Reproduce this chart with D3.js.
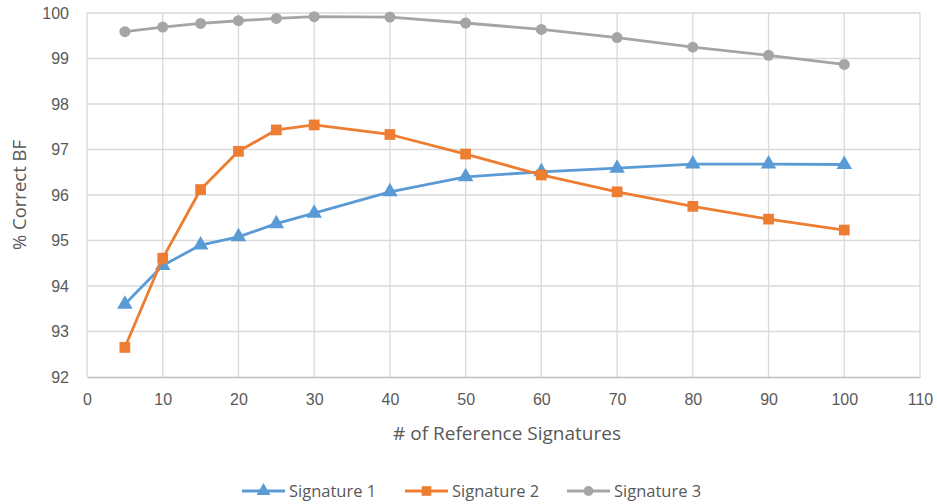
<!DOCTYPE html>
<html>
<head>
<meta charset="utf-8">
<script src="https://cdn.jsdelivr.net/npm/d3@7"></script>
<style>
  body { margin: 0; background: #fff; }
  svg { display: block; font-family: "Open Sans", Lato, sans-serif; }
</style>
</head>
<body>
<svg id="chart" width="937" height="504"></svg>
<script>
// Number of reference signatures
const refCounts = [5, 10, 15, 20, 25, 30, 40, 50, 60, 70, 80, 90, 100];
// % correct BF for each signature
const signature1 = [93.60, 94.45, 94.90, 95.08, 95.37, 95.60, 96.07, 96.40, 96.51, 96.59, 96.68, 96.68, 96.67];
const signature2 = [92.65, 94.61, 96.12, 96.96, 97.43, 97.54, 97.33, 96.90, 96.44, 96.07, 95.75, 95.47, 95.23];
const signature3 = [99.59, 99.69, 99.77, 99.83, 99.88, 99.92, 99.91, 99.78, 99.64, 99.46, 99.25, 99.07, 98.87];
const seriesNames = ["Signature 1", "Signature 2", "Signature 3"];
const xTicks = [0, 10, 20, 30, 40, 50, 60, 70, 80, 90, 100, 110];
const yTicks = [92, 93, 94, 95, 96, 97, 98, 99, 100];

const series = [
  { name: seriesNames[0], values: signature1, color: "#5b9bd5", symbol: d3.symbolTriangle, size: 105 },
  { name: seriesNames[1], values: signature2, color: "#ed7d31", symbol: d3.symbolSquare, size: 115 },
  { name: seriesNames[2], values: signature3, color: "#a5a5a5", symbol: d3.symbolCircle, size: 95 }
];

const svg = d3.select("#chart");
const plot = { left: 87, right: 920, top: 13, bottom: 377 };

const x = d3.scaleLinear().domain([0, 110]).range([plot.left, plot.right]);
const y = d3.scaleLinear().domain([92, 100]).range([plot.bottom, plot.top]);

const textColor = "#595959";
const gridColor = "#d9d9d9";

// Gridlines
const grid = svg.append("g");
grid.selectAll("line.h").data(yTicks.slice(1)).join("line")
  .attr("x1", plot.left).attr("x2", plot.right)
  .attr("y1", d => y(d)).attr("y2", d => y(d))
  .attr("stroke", gridColor).attr("stroke-width", 1.3);
grid.selectAll("line.v").data(xTicks).join("line")
  .attr("x1", d => x(d)).attr("x2", d => x(d))
  .attr("y1", plot.top).attr("y2", plot.bottom)
  .attr("stroke", gridColor).attr("stroke-width", 1.3);

// Axes
const xAxis = svg.append("g")
  .attr("transform", `translate(0,${plot.bottom})`)
  .call(d3.axisBottom(x).tickValues(xTicks).tickSize(0).tickPadding(17));
xAxis.select(".domain").attr("stroke", "#bfbfbf").attr("stroke-width", 1.3);
xAxis.selectAll("text").attr("fill", textColor).attr("font-size", 16);

const yAxis = svg.append("g")
  .attr("transform", `translate(${plot.left},0)`)
  .call(d3.axisLeft(y).tickValues(yTicks).tickSize(0).tickPadding(18));
yAxis.select(".domain").remove();
yAxis.selectAll("text").attr("fill", textColor).attr("font-size", 16);

// Axis titles
svg.append("text")
  .attr("x", 507).attr("y", 440)
  .attr("text-anchor", "middle").attr("fill", textColor).attr("font-size", 19)
  .text("# of Reference Signatures");
svg.append("text")
  .attr("transform", `translate(26,${(plot.top + plot.bottom) / 2}) rotate(-90)`)
  .attr("text-anchor", "middle").attr("fill", textColor).attr("font-size", 18.5)
  .text("% Correct BF");

// Lines and markers
const line = d3.line().x((d, i) => x(refCounts[i])).y(d => y(d));
series.forEach(s => {
  const g = svg.append("g");
  g.append("path").datum(s.values)
    .attr("d", line).attr("fill", "none")
    .attr("stroke", s.color).attr("stroke-width", 2.8).attr("stroke-linejoin", "round");
  g.selectAll("path.m").data(s.values).join("path")
    .attr("class", "m")
    .attr("transform", (d, i) => `translate(${x(refCounts[i])},${y(d)})`)
    .attr("d", d3.symbol().type(s.symbol).size(s.size))
    .attr("fill", s.color);
});

// Legend
const legendX = [242, 405, 567];
const legendY = 491;
series.forEach((s, i) => {
  const g = svg.append("g").attr("transform", `translate(${legendX[i]},${legendY})`);
  g.append("line").attr("x1", 0).attr("x2", 43).attr("y1", 0).attr("y2", 0)
    .attr("stroke", s.color).attr("stroke-width", 2.8);
  g.append("path").attr("transform", "translate(21.5,0)")
    .attr("d", d3.symbol().type(s.symbol).size(s.size * 0.8)).attr("fill", s.color);
  g.append("text").attr("x", 47).attr("y", 0).attr("dy", "0.35em")
    .attr("fill", textColor).attr("font-size", 16.5).text(s.name);
});
</script>
</body>
</html>
